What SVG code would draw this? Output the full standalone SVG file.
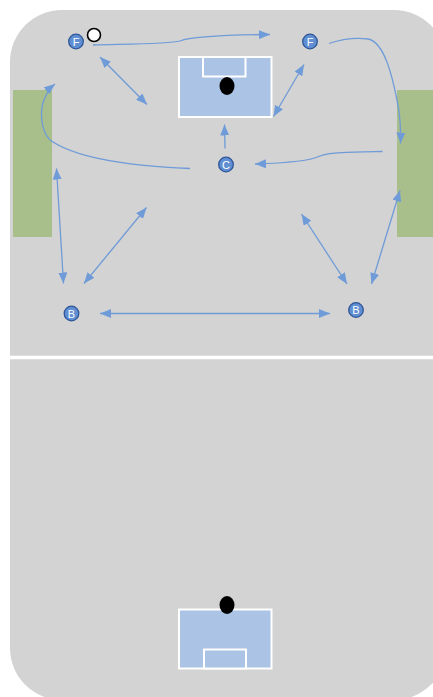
<svg xmlns="http://www.w3.org/2000/svg" width="433" height="697" viewBox="0 0 433 697">
<style>
.box{fill:#abc3e4;stroke:#ffffff;stroke-width:2}
.goal{fill:#a9bf8b}
.ball{fill:#000000}
.pl{fill:#5f8fd2;stroke:#2f5597;stroke-width:1.3}
.lbl{fill:#ffffff;font-family:"Liberation Sans",Arial,sans-serif;font-size:11px;text-anchor:middle}
.ar{fill:none;stroke:#6f9bd8;stroke-width:1.3}
</style>
<defs>
<marker id="ah" markerUnits="userSpaceOnUse" markerWidth="12" markerHeight="9" refX="11" refY="4.5" orient="auto-start-reverse" viewBox="0 0 12 9">
<path d="M0,0 L11,4.5 L0,9 z" fill="#6f9bd8"/>
</marker>
</defs>
<rect width="433" height="697" fill="#ffffff"/>
<g id="field">
<rect x="10" y="10" width="436" height="690" rx="52" ry="52" fill="#d3d3d3"/>
<line x1="10" y1="357.5" x2="433" y2="357.5" stroke="#ffffff" stroke-width="3.5"/>
</g>
<g id="goal-left"><rect class="goal" x="13" y="90" width="39" height="147"/></g>
<g id="goal-right"><rect class="goal" x="397" y="90" width="36" height="147"/></g>
<g id="box-top">
<rect class="box" x="179" y="57" width="92.5" height="60"/>
<rect class="box" x="203" y="57" width="42.5" height="19.5"/>
<ellipse class="ball" cx="227" cy="86" rx="7.5" ry="9"/>
</g>
<g id="box-bottom">
<rect class="box" x="179" y="609.5" width="92.5" height="59"/>
<rect class="box" x="204" y="649.5" width="42" height="19"/>
<ellipse class="ball" cx="227" cy="605" rx="7.5" ry="9"/>
</g>
<g id="connectors">
<path class="ar" marker-end="url(#ah)" d="M93,45 C130,44 170,44 180,41 C190,37 230,35 270,34.5"/>
<path class="ar" marker-start="url(#ah)" marker-end="url(#ah)" d="M100,57 L147,104.5"/>
<path class="ar" marker-start="url(#ah)" marker-end="url(#ah)" d="M304,64.5 L273.5,116.5"/>
<path class="ar" marker-end="url(#ah)" d="M225,148.5 L224.5,124.5"/>
<path class="ar" marker-end="url(#ah)" d="M329,43.5 C345,38 360,38 368,39 C385,42 393,80 397,100 C400,115 401,130 400.5,143.5"/>
<path class="ar" marker-end="url(#ah)" d="M382.5,151.5 C355,152 330,152 320,156 C312,160 290,163 255,164"/>
<path class="ar" marker-end="url(#ah)" d="M190,168.5 C130,166 75,158 50,140 C40,130 40,110 44,100 C47,92 50,88 55,84"/>
<path class="ar" marker-start="url(#ah)" marker-end="url(#ah)" d="M56.5,168.5 L63.5,283.5"/>
<path class="ar" marker-start="url(#ah)" marker-end="url(#ah)" d="M146.5,207.5 L84,283.5"/>
<path class="ar" marker-start="url(#ah)" marker-end="url(#ah)" d="M301.5,214 L347,284"/>
<path class="ar" marker-start="url(#ah)" marker-end="url(#ah)" d="M400,190.5 L371.5,284"/>
<path class="ar" marker-start="url(#ah)" marker-end="url(#ah)" d="M100,313.5 L330,313.5"/>
</g>
<g id="player-f1"><circle class="pl" cx="76" cy="41.5" r="7.3"/><text class="lbl" x="76" y="45.5">F</text></g>
<g id="ball-white"><circle cx="94" cy="35" r="6.5" fill="#ffffff" stroke="#000000" stroke-width="1.6"/></g>
<g id="player-f2"><circle class="pl" cx="310" cy="41.5" r="7.3"/><text class="lbl" x="310" y="45.5">F</text></g>
<g id="player-c"><circle class="pl" cx="226" cy="164.5" r="7.3"/><text class="lbl" x="226" y="168.5">C</text></g>
<g id="player-b1"><circle class="pl" cx="71.5" cy="313.5" r="7.3"/><text class="lbl" x="71.5" y="317.5">B</text></g>
<g id="player-b2"><circle class="pl" cx="356" cy="310" r="7.3"/><text class="lbl" x="356" y="314">B</text></g>
</svg>
